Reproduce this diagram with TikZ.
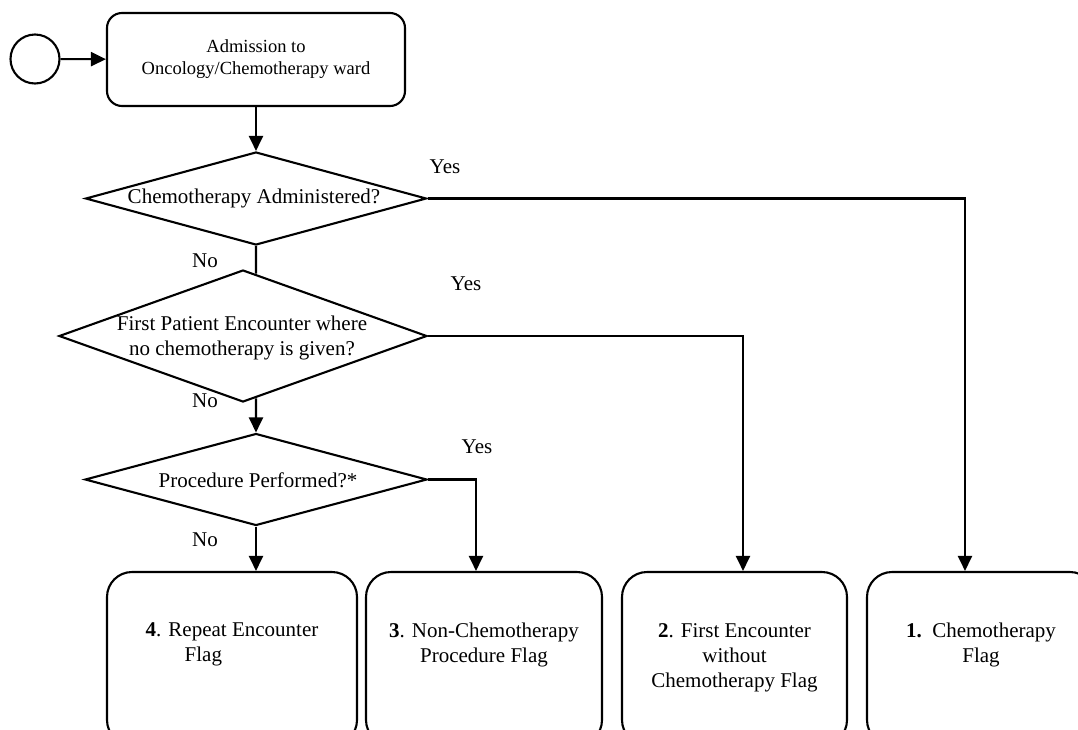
\documentclass[tikz,border=0pt]{standalone}
\usepackage{fontspec}
\setmainfont{Liberation Serif}
\usetikzlibrary{arrows.meta}
\usetikzlibrary{shapes.geometric}
\usetikzlibrary{positioning}
\usetikzlibrary{calc}
\tikzset{flow/.style = {line width=2.1pt, -{Triangle[length=15pt, width=14pt]}}}
\tikzset{link/.style = {line width=2.1pt}}
\tikzset{decision/.style = {draw, line width=2.1pt, diamond, inner sep=0}}
\tikzset{flagbox/.style = {draw, line width=2.1pt, rounded corners=25pt, minimum height=173pt}}
\tikzset{flagtext/.style = {align=center, font=\fontsize{21}{25}\selectfont, inner sep=2pt}}
\tikzset{lbl/.style = {font=\fontsize{21}{25}\selectfont, inner sep=0}}

\begin{document}
\begin{tikzpicture}[x=1pt, y=-1pt]
      \useasboundingbox (0,0) rectangle (1078,729);
      \clip (0,0) rectangle (1078,729);

      \node [draw, circle, line width=2.1pt, minimum size=49pt, inner sep=0] (start) at (35,59) {};
      \node [draw, line width=2.1pt, rounded corners=15pt, minimum width=298pt, minimum height=93pt,
        align=center, font=\fontsize{18.5}{22}\selectfont] (adm) at (256,59.5) {Admission to\\Oncology/Chemotherapy ward};

      % decisions
      \node [decision, minimum width=341pt, minimum height=93pt] (d1) at (256,198.5) {};
      \node [decision, minimum width=368pt, minimum height=132pt] (d2) at (243,336) {};
      \node [decision, minimum width=342pt, minimum height=92pt] (d3) at (256,479.5) {};
      \node [lbl] (q1) at (254,198) {Chemotherapy Administered?};
      \node [lbl, align=center] (q2) at (242,338) {First Patient Encounter where\\no chemotherapy is given?};
      \node [lbl] (q3) at (258,480) {Procedure Performed?*};

      % flags
      \node [flagbox, minimum width=250pt] (f4) at (232,658.5) {};
      \node [flagbox, minimum width=236pt] (f3) at (484,658.5) {};
      \node [flagbox, minimum width=225pt] (f2) at (734.5,658.5) {};
      \node [flagbox, minimum width=228pt] (f1) at (981,658.5) {};
      \node [flagtext, align=left, below=50pt of f4.north] (t4) {\textbf{4}. Repeat Encounter\\\hspace*{39pt}Flag};
      \node [flagtext, below=50pt of f3.north] (t3) {\textbf{3}. Non-Chemotherapy\\Procedure Flag};
      \node [flagtext, below=50pt of f2.north] (t2) {\textbf{2}. First Encounter\\without\\Chemotherapy Flag};
      \node [flagtext, below=50pt of f1.north] (t1) {\textbf{1.}\ \ Chemotherapy\\Flag};

      \draw [flow] (start) -- (adm);
      \draw [flow] (adm.south) -- (d1.north);
      \draw [link] (d1.south) -- ($(d2.north)!0.07!(d2.east)$);
      \draw [flow] ($(d2.south)!0.07!(d2.east)$) -- (d3.north);
      \draw [flow] (d3.south) -- (d3.south |- f4.north);
      \draw [flow] (d3.east) -| ([xshift=-8pt]f3.north);
      \draw [flow] (d2.east) -| ([xshift=8.5pt]f2.north);
      \draw [flow] (d1.east) -| ([xshift=-16pt]f1.north);

      \node [lbl] (y1) at (445,167) {Yes};
      \node [lbl] (y2) at (466,284) {Yes};
      \node [lbl] (y3) at (477,447) {Yes};
      \node [lbl] (n1) at (205,261) {No};
      \node [lbl] (n2) at (205,401) {No};
      \node [lbl] (n3) at (205,540) {No};
    \end{tikzpicture}
\end{document}
